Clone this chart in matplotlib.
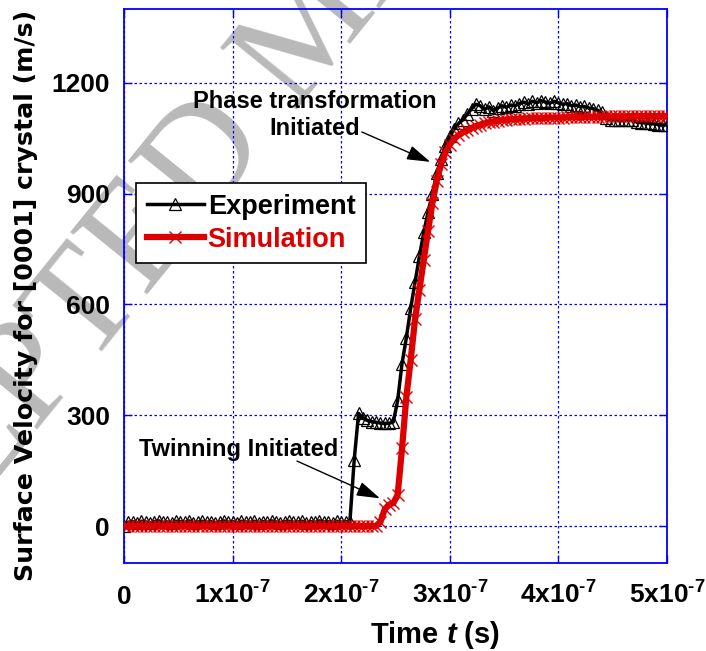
import numpy as np
import matplotlib
matplotlib.use('Agg')
import matplotlib.pyplot as plt

plt.rcParams['font.family'] = 'Liberation Sans'
plt.rcParams['font.weight'] = 'bold'
plt.rcParams['mathtext.fontset'] = 'custom'
plt.rcParams['mathtext.rm'] = 'Liberation Sans:bold'
plt.rcParams['mathtext.bf'] = 'Liberation Sans:bold'
plt.rcParams['mathtext.it'] = 'Liberation Sans:italic:bold'

# sample times (ns), 4 ns spacing
t_ns = np.arange(0, 501, 4)

# measured free-surface velocity (m/s)
v_exp = [
    0, 10, 12, 9, 13, 11, 8, 12, 14, 10,
    11, 9, 13, 12, 10, 14, 9, 11, 13, 10,
    12, 8, 11, 14, 10, 12, 9, 13, 11, 10,
    13, 9, 12, 10, 14, 11, 9, 12, 13, 10,
    11, 13, 9, 12, 10, 14, 11, 12, 9, 13,
    10, 12, 11, 180, 305, 292, 286, 283, 281, 279,
    278, 278, 282, 340, 440, 510, 590, 660, 730, 795,
    850, 900, 955, 995, 1030, 1055, 1075, 1090, 1100, 1115,
    1130, 1142, 1138, 1128, 1135, 1125, 1132, 1138, 1134, 1140,
    1138, 1144, 1148, 1143, 1150, 1146, 1152, 1148, 1145, 1150,
    1146, 1142, 1144, 1138, 1140, 1135, 1136, 1132, 1130, 1126,
    1120, 1104, 1100, 1100, 1099, 1100, 1100, 1100, 1094, 1092,
    1092, 1090, 1089, 1087, 1086, 1086,
]

# simulated free-surface velocity (m/s)
v_sim = [
    0, 0, 0, 0, 0, 0, 0, 0, 0, 0,
    0, 0, 0, 0, 0, 0, 0, 0, 0, 0,
    0, 0, 0, 0, 0, 0, 0, 0, 0, 0,
    0, 0, 0, 0, 0, 0, 0, 0, 0, 0,
    0, 0, 0, 0, 0, 0, 0, 0, 0, 0,
    0, 0, 0, 0, 0, 0, 0, 0, 0, 10,
    45, 58, 62, 85, 210, 350, 450, 560, 640, 720,
    800, 875, 935, 980, 1012, 1033, 1048, 1058, 1066, 1072,
    1078, 1083, 1087, 1090, 1093, 1095, 1097, 1099, 1100, 1101,
    1102, 1103, 1103, 1104, 1104, 1105, 1105, 1105, 1106, 1106,
    1106, 1106, 1107, 1107, 1107, 1107, 1108, 1108, 1108, 1108,
    1108, 1109, 1109, 1109, 1109, 1109, 1109, 1110, 1110, 1110,
    1110, 1110, 1110, 1110, 1110, 1110,
]

xticks = [0, 1e-7, 2e-7, 3e-7, 4e-7, 5e-7]
# short hyphen (U+2010) in the exponent
xtick_labels = ['0'] + ['$\\mathbf{%dx10^{\u20107}}$' % k for k in range(1, 6)]
yticks = [0, 300, 600, 900, 1200]

t = t_ns * 1e-9
red = '#dd0000'
blue = '#0000ff'

fig = plt.figure(figsize=(7.06, 6.51), dpi=100)
ax = fig.add_axes([0.1756, 0.1352, 0.7692, 0.851])
ax.set_facecolor('none')

# faint diagonal stamp behind the plot
fig.text(0.446, 0.954, 'ACCEPTED MANUSCRIPT', rotation=51, rotation_mode='anchor',
         ha='center', va='center', fontsize=108, family='Liberation Serif',
         fontweight='normal', color='#b9b9b9', zorder=-1)

ax.plot(t, v_exp, color='k', lw=2.5, marker='^', ms=9, mfc='none', mec='k',
        mew=0.9, label='Experiment', zorder=3)
ax.plot(t, v_sim, color=red, lw=4.5, marker='x', ms=8, mew=1.0,
        label='Simulation', zorder=4)

ax.set_xlim(0, 5e-7)
ax.set_ylim(-100, 1400)
ax.set_xticks(xticks)
ax.set_xticklabels(xtick_labels)
ax.set_yticks(yticks)
ax.tick_params(direction='in', length=6, width=1, color=blue, top=True, right=True,
               labelsize=19)
ax.tick_params(axis='x', pad=29.5)
ax.tick_params(axis='y', pad=10)
for lab in ax.get_xticklabels():
    lab.set_verticalalignment('baseline')
for sp in ax.spines.values():
    sp.set_color(blue)
    sp.set_linewidth(1.3)
ax.grid(True, color=blue, linestyle=(0, (2, 2)), linewidth=0.9)
ax.set_axisbelow(True)

fig.text(26.5 / 706, 1 - 295.5 / 651, 'Surface Velocity for [0001] crystal (m/s)',
         rotation=90, ha='center', va='center', fontsize=18.2,
         family='DejaVu Sans', fontweight='bold')
fig.text(435 / 706, 1 - 635 / 651, r'Time $t$ (s)', ha='center', va='center',
         fontsize=21)

leg = ax.legend(loc='upper left', bbox_to_anchor=(0.022, 0.686), fontsize=19.5,
                frameon=True, fancybox=False, edgecolor='k', framealpha=1,
                borderpad=0.4, handlelength=2.1, handletextpad=0.15,
                labelspacing=0.25, borderaxespad=0)
leg.get_frame().set_linewidth(1.2)
leg.get_texts()[1].set_color(red)

arrow = dict(arrowstyle='-|>,head_length=0.8,head_width=0.25', color='k', lw=1,
             shrinkA=0, shrinkB=0, mutation_scale=18)
ax.text(1.759e-7, 1113, 'Phase transformation\nInitiated', ha='center', va='center',
        fontsize=17, linespacing=1.25, zorder=6)
ax.annotate('', xy=(2.82e-7, 986), xytext=(2.19e-7, 1067), arrowprops=arrow, zorder=6)
ax.text(1.054e-7, 208, 'Twinning Initiated', ha='center', va='center', fontsize=17,
        zorder=6)
ax.annotate('', xy=(2.357e-7, 75), xytext=(1.593e-7, 176), arrowprops=arrow, zorder=6)

fig.savefig('out.png', dpi=100)
